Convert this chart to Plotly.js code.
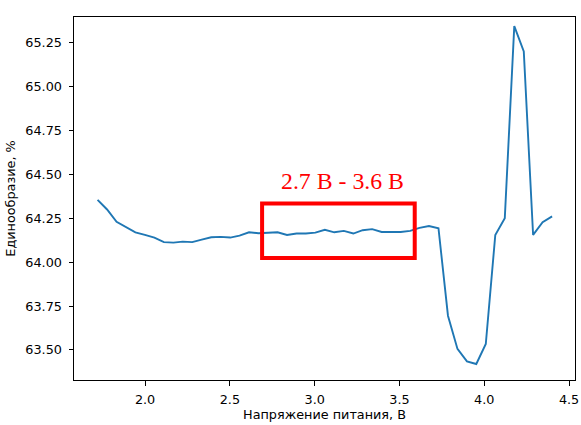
<!DOCTYPE html>
<html>
<head>
<meta charset="utf-8">
<script src="https://cdn.plot.ly/plotly-3.0.1.min.js"></script>
<style>html,body{margin:0;padding:0;background:#fff;}#chart{width:581px;height:425px;}</style>
</head>
<body>
<div id="chart"></div>
<script>
const voltage = [1.72, 1.776, 1.832, 1.887, 1.943, 1.999, 2.055, 2.111, 2.167, 2.222,
  2.278, 2.334, 2.39, 2.446, 2.502, 2.557, 2.613, 2.669, 2.725, 2.781,
  2.837, 2.893, 2.948, 3.004, 3.06, 3.116, 3.172, 3.228, 3.283, 3.339,
  3.395, 3.451, 3.507, 3.563, 3.618, 3.674, 3.73, 3.786, 3.842, 3.898,
  3.953, 4.009, 4.065, 4.121, 4.177, 4.233, 4.288, 4.344, 4.4];
const uniformity = [64.355, 64.30, 64.23, 64.20, 64.17, 64.155, 64.14, 64.114, 64.111, 64.117,
  64.114, 64.128, 64.142, 64.144, 64.14, 64.151, 64.170, 64.165, 64.166, 64.170,
  64.155, 64.163, 64.163, 64.168, 64.184, 64.170, 64.178, 64.163, 64.182, 64.188,
  64.172, 64.172, 64.172, 64.178, 64.195, 64.206, 64.193, 63.695, 63.506, 63.435,
  63.420, 63.534, 64.155, 64.25, 65.344, 65.20, 64.155, 64.227, 64.261];
const xTicks = [2.0, 2.5, 3.0, 3.5, 4.0, 4.5];
const xTickLabels = ["2.0", "2.5", "3.0", "3.5", "4.0", "4.5"];
const yTicks = [63.5, 63.75, 64.0, 64.25, 64.5, 64.75, 65.0, 65.25];
const yTickLabels = ["63.50", "63.75", "64.00", "64.25", "64.50", "64.75", "65.00", "65.25"];
const xTitle = "Напряжение питания, В";
const yTitle = "Единообразие, %";
const rangeLabel = "2.7 В - 3.6 В";
const rangeBox = [2.69, 3.59];
const rangeBoxY = [64.023, 64.334];

const font = {family: "DejaVu Sans", size: 12.8, color: "#000"};
const axisCommon = {
  showline: true, mirror: true, linecolor: "#000", linewidth: 1,
  ticks: "outside", ticklen: 4.5, tickwidth: 1, tickcolor: "#000",
  showgrid: false, zeroline: false, tickfont: font, automargin: false
};
const layout = {
  width: 581, height: 425,
  margin: {l: 74, r: 6, t: 17, b: 45, pad: 0},
  paper_bgcolor: "#fff", plot_bgcolor: "#fff",
  showlegend: false,
  font: font,
  xaxis: Object.assign({}, axisCommon, {
    range: [1.581, 4.535], tickvals: xTicks, ticktext: xTickLabels,
    ticklabelstandoff: 3,
    title: {text: xTitle, font: font, standoff: 4}
  }),
  yaxis: Object.assign({}, axisCommon, {
    range: [63.329, 65.396], tickvals: yTicks, ticktext: yTickLabels,
    ticklabelstandoff: 4,
    title: {text: yTitle, font: font, standoff: 6}
  }),
  shapes: [{
    type: "rect", xref: "x", yref: "y",
    x0: rangeBox[0], x1: rangeBox[1], y0: rangeBoxY[0], y1: rangeBoxY[1],
    line: {color: "#ff0000", width: 4}, fillcolor: "rgba(0,0,0,0)"
  }],
  annotations: [{
    x: 3.165, y: 64.463, xref: "x", yref: "y", text: rangeLabel,
    showarrow: false, xanchor: "center", yanchor: "middle",
    font: {family: "Liberation Serif", size: 23.8, color: "#ff0000"}
  }]
};
const trace = {
  x: voltage, y: uniformity, type: "scatter", mode: "lines",
  line: {color: "#1f77b4", width: 1.9}, hoverinfo: "none"
};
Plotly.newPlot("chart", [trace], layout, {staticPlot: true, displayModeBar: false});
</script>
</body>
</html>
